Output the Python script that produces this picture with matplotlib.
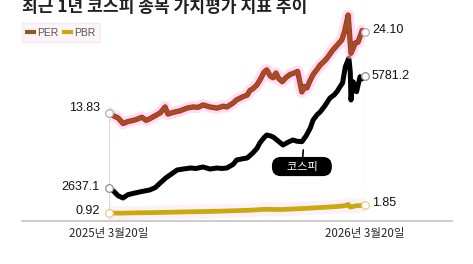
import matplotlib
matplotlib.use("Agg")
import matplotlib.pyplot as plt
from matplotlib.lines import Line2D

# ---------------- data ----------------
kospi_days = [0, 6, 13, 20, 27, 37, 47, 58, 66, 73, 81, 87, 97, 106, 116, 124, 134, 144, 154, 161,
              168, 177, 182, 191, 197, 205, 211, 215, 221, 225, 230, 234, 241, 248, 255, 262, 268, 275, 281, 287,
              291, 297, 301, 308, 315, 321, 325, 330, 333, 337, 342, 344, 345, 348, 351, 353, 356, 358, 361, 365]
kospi = [2637.1, 2560, 2420, 2356, 2450, 2497, 2540, 2581, 2650, 2778, 2920, 3002, 3142, 3170, 3199, 3185, 3227, 3170, 3199, 3185,
         3199, 3300, 3423, 3460, 3479, 3620, 3750, 3900, 4050, 4125, 4100, 4069, 3960, 3844, 3920, 3984, 3950, 3937, 4100, 4321,
         4546, 4700, 4770, 4950, 5163, 5250, 5340, 5500, 5584, 6042, 6286, 5900, 5107, 5621, 5450, 5340, 5600, 5761, 5700, 5781.2]

per_days = [0, 6, 13, 20, 27, 37, 47, 53, 58, 66, 73, 80, 84, 91, 101, 111, 120, 127, 134, 144,
            154, 163, 168, 177, 182, 191, 197, 201, 205, 211, 217, 221, 225, 230, 234, 238, 242, 247, 252, 258,
            264, 269, 275, 279, 282, 287, 291, 297, 301, 307, 311, 319, 325, 332, 336, 341, 345, 348, 351, 355, 361, 365]
per = [13.83, 13.5, 13.2, 12.5, 12.75, 12.95, 13.3, 12.9, 13.1, 13.5, 13.85, 14.6, 13.7, 13.9, 14.1, 14.45, 14.6, 14.55, 14.85, 14.6,
       14.45, 14.7, 14.6, 15.1, 15.5, 15.9, 16.1, 16.7, 16.9, 17.4, 18.3, 19.0, 19.3, 18.5, 18.3, 18.9, 18.2, 17.8, 18.3, 18.7,
       18.9, 19.1, 16.5, 17.2, 17.0, 18.0, 18.7, 19.4, 19.9, 20.4, 20.8, 21.8, 22.4, 23.1, 24.2, 26.25, 21.4, 22.0, 22.7, 22.8, 24.3, 24.10]

pbr_days = [0, 16, 30, 58, 87, 115, 144, 173, 201, 222, 244, 272, 294, 315, 330, 338, 341, 344, 347, 351, 358, 365]
pbr = [0.92, 0.90, 0.93, 0.96, 1.01, 1.06, 1.10, 1.17, 1.24, 1.35, 1.32, 1.42, 1.52, 1.62, 1.70, 1.80, 1.92, 1.60, 1.65, 1.75, 1.78, 1.85]

date_labels = ["2025년 3월20일", "2026년 3월20일"]
title = "최근 1년 코스피 종목 가치평가 지표 추이"
series_names = ["PER", "PBR"]
callout = "코스피"

# ---------------- style ----------------
KR = ["Noto Sans CJK KR", "DejaVu Sans"]
NUM = ["Liberation Sans", "DejaVu Sans"]
C_PER = "#8C5A2A"
C_PER_RED = "#F01010"
C_PBR = "#C9A90C"
C_KOSPI = "#000000"

W, H = 473, 264
fig = plt.figure(figsize=(W / 100, H / 100), dpi=100)
fig.patch.set_facecolor("white")

left_px, right_px, top_px, base_px = 109, 365, 0, 221
ax = fig.add_axes([left_px / W, 1 - base_px / H, (right_px - left_px) / W, (base_px - top_px) / H])
ax_per = ax.twinx()
ax_pbr = ax.twinx()

for a in (ax, ax_per, ax_pbr):
    a.set_xlim(0, 365)
    a.patch.set_visible(False)
    for s in a.spines.values():
        s.set_visible(False)
    a.set_yticks([])
    a.tick_params(axis="y", length=0, labelleft=False, labelright=False)

ax.set_ylim(1710.8, 7914.5)
ax_per.set_ylim(0.15, 28.15)
ax_pbr.set_ylim(-0.008, 25.63)

# x ticks as date labels
ax.set_xticks([0, 365])
ax.set_xticklabels(date_labels, fontfamily=KR, fontsize=8.3, color="#2a2a2a")
ax.tick_params(axis="x", length=0, pad=4)
ax_per.tick_params(axis="x", length=0, labelbottom=False)
ax_pbr.tick_params(axis="x", length=0, labelbottom=False)

# guide lines
ax.axvline(0, ymin=0, ymax=0.49, color="#dcdcdc", lw=1, zorder=0)
ax.axvline(365, ymin=0, ymax=0.84, color="#ececec", lw=1, zorder=0)
bl = ax.axhline(ax.get_ylim()[0], xmin=(22 - left_px) / (right_px - left_px),
                xmax=(452 - left_px) / (right_px - left_px), color="#c8c8c8", lw=1.3)
bl.set_clip_on(False)

# KOSPI
ax.plot(kospi_days, kospi, color=C_KOSPI, lw=3.6, solid_joinstyle="round", solid_capstyle="round", zorder=3)
# PER
ax_per.plot(per_days, per, color="#ffc6ee", lw=8.5, alpha=0.55, solid_joinstyle="round", zorder=1)
ax_per.plot(per_days, per, color=C_PER_RED, lw=3.8, solid_joinstyle="round", zorder=2)
ax_per.plot(per_days, per, color=C_PER, lw=2.5, solid_joinstyle="round", zorder=3)
# PBR
ax_pbr.plot(pbr_days, pbr, color="#fbd8f0", lw=10, alpha=0.35, solid_joinstyle="round", zorder=1)
ax_pbr.plot(pbr_days, pbr, color=C_PBR, lw=3.4, solid_joinstyle="round", zorder=3)

# end markers and labels
def ends(a, xs, ys, fmt, edge, dy_left, dy_right):
    a.plot([xs[0], xs[-1]], [ys[0], ys[-1]], ls="none", marker="o", ms=5.5,
           mfc="white", mec=edge, mew=0.9, zorder=5, clip_on=False)
    a.annotate(fmt.format(ys[0]), (xs[0], ys[0]), xytext=(-9, dy_left), textcoords="offset pixels",
               ha="right", va="center", fontfamily=NUM, fontsize=9, color="#111111")
    a.annotate(fmt.format(ys[-1]), (xs[-1], ys[-1]), xytext=(7, dy_right), textcoords="offset pixels",
               ha="left", va="center", fontfamily=NUM, fontsize=9, color="#111111")

ends(ax_per, per_days, per, "{:.2f}", "#b0b0b0", 5, 2)
ends(ax, kospi_days, kospi, "{:.1f}", "#909090", 1, 0)
ends(ax_pbr, pbr_days, pbr, "{:.2f}", "#e0d08a", 2, 2)

# callout
ax.annotate("    " + callout + "    ", xy=(277, 3704), xytext=(275, 3240),
            ha="center", va="center", fontfamily=KR, fontsize=8, color="white",
            bbox=dict(boxstyle="round,pad=0.35,rounding_size=0.75", fc="black", ec="black"),
            arrowprops=dict(arrowstyle="-", color="black", lw=1.2, shrinkA=0, shrinkB=0), zorder=6)

# title
fig.text(22 / W, 1 - 12.5 / H, title, fontfamily=KR, fontsize=12.3, fontweight="bold",
         color="#222222", ha="left", va="baseline")

# legend
handles = [Line2D([], [], color=C_PER, lw=3), Line2D([], [], color=C_PBR, lw=3)]
leg = fig.legend(handles, series_names, loc="upper left", bbox_to_anchor=(22 / W, 1 - 23 / H),
                 ncol=2, frameon=True, handlelength=0.7, handletextpad=0.3,
                 columnspacing=0.5, borderpad=0.45, borderaxespad=0, prop={"family": NUM, "size": 7.5})
leg.get_frame().set_facecolor("#fdf2f9")
leg.get_frame().set_edgecolor("#f3e6ef")
leg.get_frame().set_boxstyle("square", pad=0)
for t in leg.get_texts():
    t.set_color("#555555")

fig.savefig("out.png", dpi=100)
